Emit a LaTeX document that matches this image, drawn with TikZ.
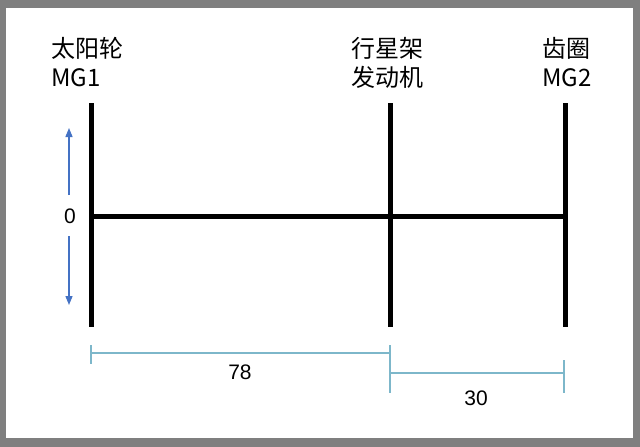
\documentclass[tikz,border=0pt]{standalone}
\usepackage{fontspec}
\setmainfont{Noto Sans CJK SC}
\newfontfamily\numfont{Liberation Sans}
\usetikzlibrary{arrows.meta}
\definecolor{framegray}{HTML}{7F7F7F}
\definecolor{arrowblue}{HTML}{4472C4}
\definecolor{dimblue}{HTML}{7DB7CA}
\begin{document}
\begin{tikzpicture}[x=1pt,y=-1pt,
  shaft/.style={line width=5pt,black},
  speedarrow/.style={arrowblue,line width=1.3pt,-{Triangle[width=7pt,length=9pt]}},
  dimline/.style={dimblue,line width=1.4pt},
  label/.style={font=\fontsize{24}{29}\selectfont,align=left,anchor=north west,inner sep=0pt},
  numlabel/.style={font=\numfont\fontsize{21}{25}\selectfont,inner sep=0pt}]
\useasboundingbox (0,0) rectangle (640,447);
\fill[framegray] (0,0) rectangle (640,447);
\fill[white] (6,8) rectangle (633,438);
% labels
\node[label] (lsun) at (51,37) {太阳轮\\MG1};
\node[label] (lcar) at (351,37) {行星架\\发动机};
\node[label] (lring) at (542,37) {齿圈\\MG2};
% shafts
\coordinate (sunT) at (91,103);
\coordinate (sunB) at (91,327);
\coordinate (carT) at (390,103);
\coordinate (carB) at (390,327);
\coordinate (ringT) at (565,103);
\coordinate (ringB) at (565,327);
\coordinate (sunM) at (91,216);
\coordinate (ringM) at (565,216);
\draw[shaft] (sunT) -- (sunB);
\draw[shaft] (carT) -- (carB);
\draw[shaft] (ringT) -- (ringB);
\draw[shaft] (sunM) -- (ringM);
% zero and arrows
\node[numlabel] (zero) at (70,216) {0};
\coordinate (upS) at (69,195);
\coordinate (upE) at (69,128);
\coordinate (dnS) at (69,236);
\coordinate (dnE) at (69,305);
\draw[speedarrow] (upS) -- (upE);
\draw[speedarrow] (dnS) -- (dnE);
% dimensions
\coordinate (d1a) at (91,353);
\coordinate (d1b) at (390,353);
\coordinate (d2a) at (390,373);
\coordinate (d2b) at (564,373);
\draw[dimline] (d1a) -- (d1b);
\draw[dimline] (91,345) -- (91,364);
\draw[dimline] (390,345) -- (390,393);
\draw[dimline] (d2a) -- (d2b);
\draw[dimline] (564,360) -- (564,393);
\node[numlabel] (n78) at (240,372) {78};
\node[numlabel] (n30) at (476,398) {30};
\end{tikzpicture}
\end{document}
